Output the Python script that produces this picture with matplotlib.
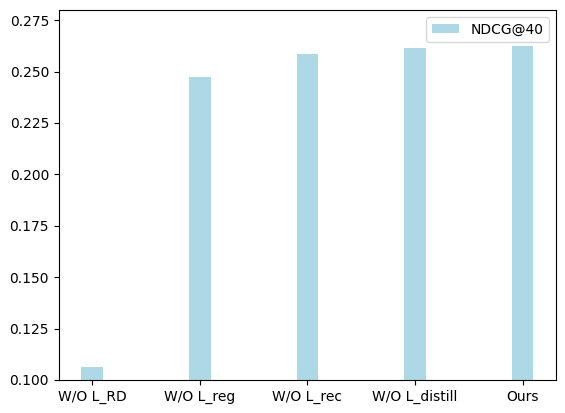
import matplotlib
matplotlib.use("Agg")
import matplotlib.pyplot as plt
import numpy as np

categories = ["W/O L_RD", "W/O L_reg", "W/O L_rec", "W/O L_distill", "Ours"]
ndcg40 = [0.1062, 0.2473, 0.2585, 0.2614, 0.2624]

fig = plt.figure(figsize=(5.65, 4.13), dpi=100)
ax = fig.add_axes([0.104, 0.080, 0.880, 0.896])
x = np.arange(len(categories))
ax.bar(x, ndcg40, width=0.2, color="lightblue", label="NDCG@40")
ax.set_xticks(x)
ax.set_xticklabels(categories)
ax.set_ylim(0.1, 0.28)
ax.legend(loc="upper right")
fig.savefig("out.png", dpi=100)
